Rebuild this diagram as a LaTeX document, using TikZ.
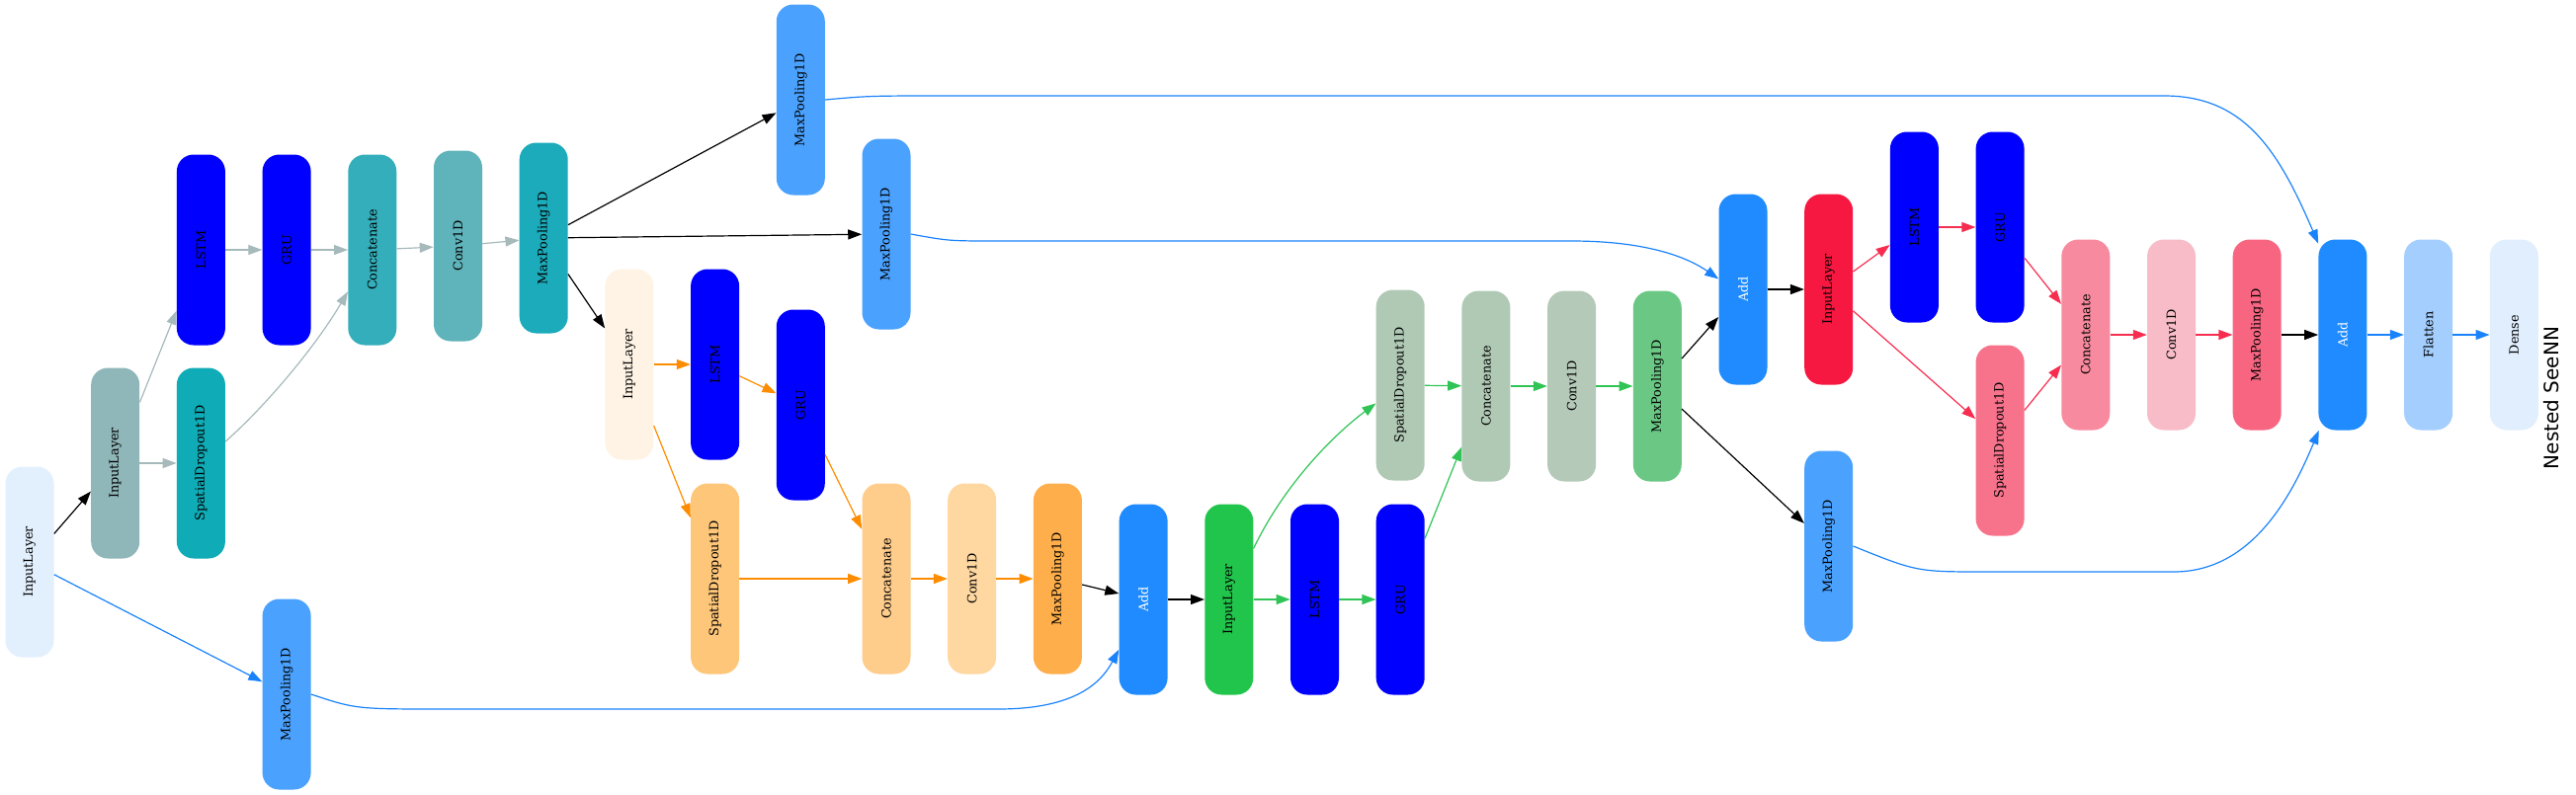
\documentclass[tikz,border=0pt]{standalone}
\usepackage{fontspec}
\usepackage{graphicx}
\usetikzlibrary{arrows.meta}
\newfontfamily\lblfont{DejaVu Serif}
\newfontfamily\ttlfont{DejaVu Sans}
\newcommand{\rl}[1]{\rotatebox{90}{#1}}
\definecolor{cInA}{HTML}{E2F0FE}
\definecolor{cInB}{HTML}{8FB6B9}
\definecolor{cRnn}{HTML}{0000FF}
\definecolor{cSpA}{HTML}{0FABB6}
\definecolor{cCatA}{HTML}{34AEBA}
\definecolor{cConvA}{HTML}{5FB3BA}
\definecolor{cMpA}{HTML}{1BABBA}
\definecolor{cMpBlue}{HTML}{4AA1FE}
\definecolor{cInC}{HTML}{FEF3E4}
\definecolor{cSpB}{HTML}{FEC679}
\definecolor{cCatB}{HTML}{FECC8B}
\definecolor{cConvB}{HTML}{FED7A1}
\definecolor{cMpB}{HTML}{FEAE4A}
\definecolor{cAdd}{HTML}{1F8BFE}
\definecolor{cInD}{HTML}{22C54C}
\definecolor{cSpC}{HTML}{B0C9B5}
\definecolor{cCatC}{HTML}{B0C9B5}
\definecolor{cConvC}{HTML}{B4C9B8}
\definecolor{cMpC}{HTML}{6AC884}
\definecolor{cInE}{HTML}{F71841}
\definecolor{cSpD}{HTML}{F7738B}
\definecolor{cCatD}{HTML}{F78A9E}
\definecolor{cConvD}{HTML}{F7BCC7}
\definecolor{cMpD}{HTML}{F76581}
\definecolor{cFlat}{HTML}{A4CEFE}
\definecolor{cDense}{HTML}{E0EEFE}
\definecolor{eGrey}{HTML}{A6B9BB}
\definecolor{eOrange}{HTML}{FE8C00}
\definecolor{eGreen}{HTML}{2FC455}
\definecolor{eRed}{HTML}{F72D50}
\definecolor{eBlue}{HTML}{1A82FB}
\tikzset{
  layer/.style={rectangle, rounded corners=12.75pt, minimum width=36.75pt,
    minimum height=144.75pt, inner sep=0pt, draw=none,
    font={\lblfont\fontsize{9.6pt}{11pt}\selectfont}},
  e/.style={-{Triangle[length=10.5pt,width=7.5pt]}, line width=0.9pt},
}
\begin{document}
\begin{tikzpicture}[x=0.75pt, y=-0.75pt]
\useasboundingbox (0,0) rectangle (2607,804);
% column 1-7
\node[layer, fill=cInA] (in1) at (30,569) {\rl{InputLayer}};
\node[layer, fill=cInB] (in2) at (116.7,469) {\rl{InputLayer}};
\node[layer, fill=cRnn] (lstm3) at (203.4,253) {\rl{LSTM}};
\node[layer, fill=cSpA] (sp3) at (203.4,469) {\rl{SpatialDropout1D}};
\node[layer, fill=cRnn] (gru4) at (290.1,253) {\rl{GRU}};
\node[layer, fill=cMpBlue] (mp4) at (290.1,703) {\rl{MaxPooling1D}};
\node[layer, fill=cCatA] (cat5) at (376.8,253) {\rl{Concatenate}};
\node[layer, fill=cConvA] (conv6) at (463.5,249) {\rl{Conv1D}};
\node[layer, fill=cMpA] (mp7) at (550.2,241) {\rl{MaxPooling1D}};
% column 8-14
\node[layer, fill=cInC] (in8) at (636.9,369) {\rl{InputLayer}};
\node[layer, fill=cRnn] (lstm9) at (723.6,369) {\rl{LSTM}};
\node[layer, fill=cSpB] (sp9) at (723.6,586) {\rl{SpatialDropout1D}};
\node[layer, fill=cRnn] (gru10) at (810.3,410) {\rl{GRU}};
\node[layer, fill=cMpBlue] (mp10) at (810.3,101) {\rl{MaxPooling1D}};
\node[layer, fill=cMpBlue] (mp11) at (897,237) {\rl{MaxPooling1D}};
\node[layer, fill=cCatB] (cat11) at (897,586) {\rl{Concatenate}};
\node[layer, fill=cConvB] (conv12) at (983.7,586) {\rl{Conv1D}};
\node[layer, fill=cMpB] (mp13) at (1070.4,586) {\rl{MaxPooling1D}};
\node[layer, fill=cAdd, text=white] (add14) at (1157.1,607) {\rl{Add}};
% column 15-21
\node[layer, fill=cInD] (in15) at (1243.8,607) {\rl{InputLayer}};
\node[layer, fill=cRnn] (lstm16) at (1330.5,607) {\rl{LSTM}};
\node[layer, fill=cSpC] (sp17) at (1417.2,390) {\rl{SpatialDropout1D}};
\node[layer, fill=cRnn] (gru17) at (1417.2,607) {\rl{GRU}};
\node[layer, fill=cCatC] (cat18) at (1503.9,391) {\rl{Concatenate}};
\node[layer, fill=cConvC] (conv19) at (1590.6,391) {\rl{Conv1D}};
\node[layer, fill=cMpC] (mp20) at (1677.3,391) {\rl{MaxPooling1D}};
\node[layer, fill=cAdd, text=white] (add21) at (1764,293) {\rl{Add}};
% column 22-30
\node[layer, fill=cInE] (in22) at (1850.7,293) {\rl{InputLayer}};
\node[layer, fill=cMpBlue] (mp22) at (1850.7,553) {\rl{MaxPooling1D}};
\node[layer, fill=cRnn] (lstm23) at (1937.4,230) {\rl{LSTM}};
\node[layer, fill=cRnn] (gru24) at (2024.1,230) {\rl{GRU}};
\node[layer, fill=cSpD] (sp24) at (2024.1,446) {\rl{SpatialDropout1D}};
\node[layer, fill=cCatD] (cat25) at (2110.8,339) {\rl{Concatenate}};
\node[layer, fill=cConvD] (conv26) at (2197.5,339) {\rl{Conv1D}};
\node[layer, fill=cMpD] (mp27) at (2284.2,339) {\rl{MaxPooling1D}};
\node[layer, fill=cAdd, text=white] (add28) at (2370.9,339) {\rl{Add}};
\node[layer, fill=cFlat] (flat) at (2457.6,339) {\rl{Flatten}};
\node[layer, fill=cDense] (dense) at (2544.3,339) {\rl{Dense}};
\node[rotate=90, font={\ttlfont\fontsize{15pt}{18pt}\selectfont}, inner sep=0pt] (title) at (2582,403) {Nested SeeNN};
% black edges
\draw[e, black] (in1) -- (in2);
\draw[e, black] (mp7) -- (in8);
\draw[e, black] (mp7) -- (mp10);
\draw[e, black] (mp7) -- (mp11);
\draw[e, black] (mp13) -- (add14);
\draw[e, black] (add14) -- (in15);
\draw[e, black] (mp20) -- (add21);
\draw[e, black] (mp20) -- (mp22);
\draw[e, black] (add21) -- (in22);
\draw[e, black] (mp27) -- (add28);
% blue straight
\draw[e, eBlue] (in1) -- (mp4);
\draw[e, eBlue] (add28) -- (flat);
\draw[e, eBlue] (flat) -- (dense);
% grey
\draw[e, eGrey] (in2) -- (lstm3);
\draw[e, eGrey] (in2) -- (sp3);
\draw[e, eGrey] (lstm3) -- (gru4);
\draw[e, eGrey] (gru4) -- (cat5);
\draw[e, eGrey] (sp3) .. controls (270,410) and (320,350) .. (cat5);
\draw[e, eGrey] (cat5) -- (conv6);
\draw[e, eGrey] (conv6) -- (mp7);
% orange
\draw[e, eOrange] (in8) -- (lstm9);
\draw[e, eOrange] (in8) -- (sp9);
\draw[e, eOrange] (lstm9) -- (gru10);
\draw[e, eOrange] (gru10) -- (cat11);
\draw[e, eOrange] (sp9) -- (cat11);
\draw[e, eOrange] (cat11) -- (conv12);
\draw[e, eOrange] (conv12) -- (mp13);
% green
\draw[e, eGreen] (in15) -- (lstm16);
\draw[e, eGreen] (lstm16) -- (gru17);
\draw[e, eGreen] (gru17) -- (cat18);
\draw[e, eGreen] (in15) .. controls (1300,490) and (1350,440) .. (sp17);
\draw[e, eGreen] (sp17) -- (cat18);
\draw[e, eGreen] (cat18) -- (conv19);
\draw[e, eGreen] (conv19) -- (mp20);
% red
\draw[e, eRed] (in22) -- (lstm23);
\draw[e, eRed] (in22) -- (sp24);
\draw[e, eRed] (lstm23) -- (gru24);
\draw[e, eRed] (gru24) -- (cat25);
\draw[e, eRed] (sp24) -- (cat25);
\draw[e, eRed] (cat25) -- (conv26);
\draw[e, eRed] (conv26) -- (mp27);
% blue curves
\draw[e, eBlue] (mp4.east) .. controls (360,718) .. (450,718) -- (1010,718) .. controls (1090,718) and (1115,690) .. (add14.-116);
\draw[e, eBlue] (mp10.east) .. controls (880,97) .. (960,97) -- (2190,97) .. controls (2270,97) and (2305,150) .. (add28.105);
\draw[e, eBlue] (mp11.east) .. controls (960,244) .. (1010,244) -- (1590,244) .. controls (1670,244) and (1710,262) .. (add21.157);
\draw[e, eBlue] (mp22.east) .. controls (1940,579) .. (2010,579) -- (2200,579) .. controls (2280,579) and (2320,500) .. (add28.-104);
\end{tikzpicture}
\end{document}
